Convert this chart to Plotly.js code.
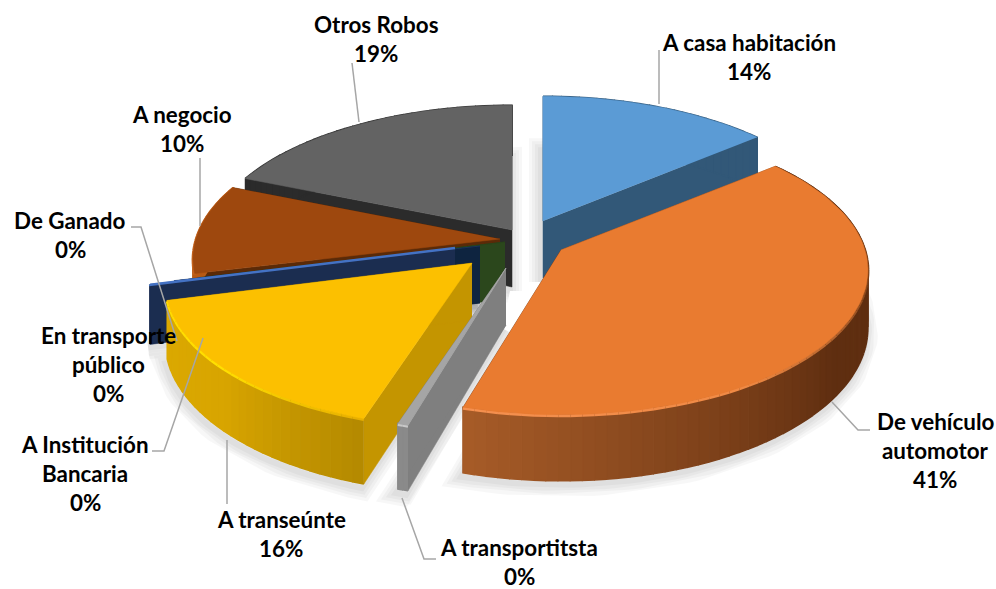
<!DOCTYPE html>
<html>
<head>
<meta charset="utf-8">
<script src="https://cdn.plot.ly/plotly-3.0.1.min.js"></script>
<style>html,body{margin:0;padding:0;background:#fff}#chart{width:996px;height:589px}</style>
</head>
<body>
<div id="chart"></div>
<script>
// ---------- data ----------
const categories = ["A casa habitación","De vehículo automotor","A transportitsta","A transeúnte","A Institución Bancaria","En transporte público","De Ganado","A negocio","Otros Robos"];
const values = [13.9, 40.55, 0.49, 15.9, 0.1, 0.1, 0.1, 10, 18.75];
const percentLabels = ["14%","41%","0%","16%","0%","0%","0%","10%","19%"];

// ---------- styles ----------
const topColors  = ["#5B9BD5","#E97B30","#A5A5A5","#FCC000","#4472C4","#2B471C","#264478","#9E480E","#636363"];
const sideColors = ["#325878","#7A3D14","#7F7F7F","#C49500","#1B2D50","#2B471C","#0E2440","#5A2A08","#2B2B2B"];
const arcColors  = [["#325878","#325878"],["#5F2E10","#5F2E10","#A85C28"],["#8A8A8A","#8A8A8A"],["#B58A00","#D8A500","#DBA900"],["#1B2D50","#1B2D50"],["#2B471C","#2B471C"],["#0E2440","#0E2440"],["#B85A15","#B85A15"],["#2B2B2B","#2B2B2B"]];
const rimColors  = [null,["#5F2E10","#7A3D14","#F08A45","#F59050"],["#C8C8C8","#C8C8C8"],["#E8B000","#FFE000","#FFDD00"],null,null,null,["#C8631C","#B85A15"],null];
const edgeWidths = [0.5,0.5,1,0.5,2.5,0.5,0.5,0.5,0.5];
// ---------- projection of the tilted disc ----------
const centre = [505, 240], radius = 304, radiusY = 142, perspective = 0.138, depth = 57;
const explode = [[38,-19],[56,10],[1,28],[-33,23],[-50,8],[0,2],[-25,6],[-5,-1],[7,-10]];
const drawOrder = [8,7,5,6,4,0,3,2,1];

const total = values.reduce((a,b)=>a+b,0);
let acc = 0;
const spans = values.map(v=>{const s=acc; acc+=v/total*360; return [s,acc];});

function project(i, thetaDeg, down){
  const t = thetaDeg*Math.PI/180, u=Math.sin(t), v=Math.cos(t), s=1/(1+perspective*v);
  return [centre[0]+explode[i][0]+radius*u*s, centre[1]+explode[i][1]-radiusY*v*s+(down?depth*s:0)];
}
function apex(i, down){ return [centre[0]+explode[i][0], centre[1]+explode[i][1]+(down?depth:0)]; }
function hex(c){return [1,3,5].map(k=>parseInt(c.substr(k,2),16));}
function mix(stops,f){
  const p=f*(stops.length-1), k=Math.min(Math.floor(p),stops.length-2), g=p-k, a=hex(stops[k]), b=hex(stops[k+1]);
  return 'rgb('+a.map((x,j)=>Math.round(x+(b[j]-x)*g)).join(',')+')';
}
function thetas(i){
  const [a,b]=spans[i], n=Math.max(2,Math.ceil((b-a)/2)), out=[];
  for(let k=0;k<=n;k++) out.push(a+(b-a)*k/n);
  return out;
}
const traces=[];
function poly(pts,color,width){
  traces.push({type:'scatter',mode:'lines',x:pts.map(p=>p[0]),y:pts.map(p=>p[1]),fill:'toself',fillcolor:color,
    line:{color:color,width:width===undefined?0.5:width,shape:'linear'},hoverinfo:'skip',showlegend:false});
}
function path(pts,color,width){
  traces.push({type:'scatter',mode:'lines',x:pts.map(p=>p[0]),y:pts.map(p=>p[1]),
    line:{color:color,width:width},hoverinfo:'skip',showlegend:false});
}
// soft shadows first, so that they lie under every slice
drawOrder.forEach(i=>{
  const th=thetas(i);
  const outline=[apex(i,true)].concat(th.map(t=>project(i,t,true)),[apex(i,true)]);
  const shifted=outline.map(p=>[p[0]-2,p[1]+4]);
  [24,18,12,6].forEach(w=>path(shifted,'rgba(0,0,0,0.03)',w));
});
drawOrder.forEach(i=>{
  const th=thetas(i), [a,b]=spans[i];
  // radial walls
  [a,b].forEach(t=>poly([apex(i,false),project(i,t,false),project(i,t,true),apex(i,true)],sideColors[i]));
  // outer wall, shaded along the rim
  for(let k=0;k<th.length-1;k++){
    const c=mix(arcColors[i],k/(th.length-1));
    poly([project(i,th[k],false),project(i,th[k+1],false),project(i,th[k+1],true),project(i,th[k],true)],c,1.5);
  }
  // rim highlight
  if(rimColors[i]){
    for(let k=0;k<th.length-1;k++){
      path([project(i,th[k],false),project(i,th[k+1],false)].map(p=>[p[0],p[1]+1]),mix(rimColors[i],k/(th.length-1)),3);
    }
  }
  // top face
  poly([apex(i,false)].concat(th.map(t=>project(i,t,false))),topColors[i],edgeWidths[i]);
});
// ---------- leader lines ----------
const leaders=[
 [[659,50],[659,104]],
 [[832,402],[858,430],[870,430]],
 [[402,498],[424,559],[436,559]],
 [[227,440],[227,504]],
 [[152,451],[164,451],[203,338]],
 [[131,227],[141,227],[177,341]],
 [[200,158],[200,226]],
 [[352,63],[359,122]]
];
leaders.forEach(l=>path(l,'#A6A6A6',1.5));
// ---------- labels ----------
const labelX=[749,935,519,281,85,108,70,182,376];
const labelY=[42,421,547,519,444,335,220,114,24];
const labelLines=[["A casa habitación"],["De vehículo","automotor"],["A transportitsta"],["A transeúnte"],["A Institución","Bancaria"],["En transporte","público"],["De Ganado"],["A negocio"],["Otros Robos"]];
const annotations=[];
categories.forEach((c,i)=>{
  labelLines[i].concat([percentLabels[i]]).forEach((t,j)=>{
    annotations.push({xref:'x',yref:'y',x:labelX[i],y:labelY[i]+j*29.3,text:'<b>'+t+'</b>',showarrow:false,
      xanchor:'center',yanchor:'middle',font:{family:'Lato, sans-serif',size:22.4,color:'#000'}});
  });
});
Plotly.newPlot('chart',traces,{
  width:996,height:589,margin:{l:0,r:0,t:0,b:0},paper_bgcolor:'#fff',plot_bgcolor:'#fff',showlegend:false,
  xaxis:{range:[0,996],visible:false,fixedrange:true},
  yaxis:{range:[589,0],visible:false,fixedrange:true},
  annotations:annotations,hovermode:false
},{displayModeBar:false,staticPlot:true});
</script>
</body>
</html>
